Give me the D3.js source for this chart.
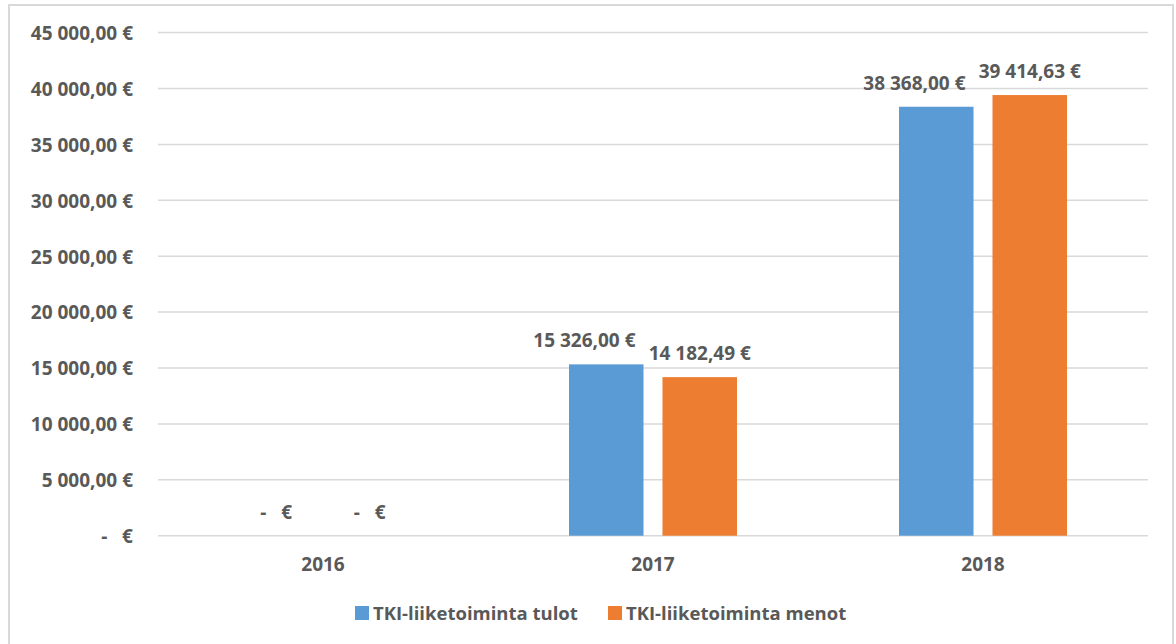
<!DOCTYPE html>
<html>
<head>
<meta charset="utf-8">
<script src="https://cdn.jsdelivr.net/npm/d3@7"></script>
<style>
  html, body { margin: 0; padding: 0; background: #fff; }
  svg { display: block; }
  text { font-family: "Open Sans", sans-serif; font-weight: 700; fill: #595959; white-space: pre; }
</style>
</head>
<body>
<svg id="chart" width="1176" height="644"></svg>
<script>
const categories = ["2016", "2017", "2018"];
const seriesNames = ["TKI-liiketoiminta tulot", "TKI-liiketoiminta menot"];
const tuloValues = [0, 15326.00, 38368.00];
const menoValues = [0, 14182.49, 39414.63];
const seriesColors = ["#5B9BD5", "#ED7D31"];
const yTickValues = [0, 5000, 10000, 15000, 20000, 25000, 30000, 35000, 40000, 45000];

const seriesValues = [tuloValues, menoValues];
const FS = 19;

function fmt(v) {
  if (v === 0) return "-   €";
  const parts = v.toFixed(2).split(".");
  const intPart = parts[0].replace(/\B(?=(\d{3})+(?!\d))/g, " ");
  return intPart + "," + parts[1] + " €";
}

const svg = d3.select("#chart");

// outer chart border
svg.append("rect")
  .attr("x", 9).attr("y", 5)
  .attr("width", 1164).attr("height", 650)
  .attr("fill", "none").attr("stroke", "#d9d9d9").attr("stroke-width", 2);

const plotLeft = 158, plotRight = 1148, plotTop = 32.6, plotBottom = 535.7;

const x0 = d3.scaleBand().domain(categories).range([plotLeft, plotRight]).padding(0);
const x1 = d3.scaleBand().domain(seriesNames).range([81, 249]).paddingInner(0.203).paddingOuter(0);
const y = d3.scaleLinear().domain([0, 45000]).range([plotBottom, plotTop]);

// gridlines
svg.append("g")
  .selectAll("line")
  .data(yTickValues)
  .join("line")
  .attr("x1", plotLeft).attr("x2", plotRight)
  .attr("y1", d => y(d)).attr("y2", d => y(d))
  .attr("stroke", "#d9d9d9").attr("stroke-width", 1.5);

// y axis labels
const yAxis = d3.axisLeft(y).tickValues(yTickValues).tickFormat(fmt).tickSize(0).tickPadding(0);
const yg = svg.append("g").attr("transform", `translate(133,0)`).call(yAxis);
yg.select(".domain").remove();
yg.selectAll("text")
  .attr("font-size", FS)
  .attr("font-family", "Open Sans")
  .attr("font-weight", 700)
  .attr("fill", "#595959")
  .attr("dy", "0.36em")
  .style("white-space", "pre");

// x axis labels
const xAxis = d3.axisBottom(x0).tickSize(0).tickPadding(0);
const xg = svg.append("g").attr("transform", `translate(0,${plotBottom})`).call(xAxis);
xg.select(".domain").remove();
xg.selectAll("text")
  .attr("font-size", FS)
  .attr("font-family", "Open Sans")
  .attr("font-weight", 700)
  .attr("fill", "#595959")
  .attr("y", 35).attr("dy", 0);

// bars
const groups = svg.append("g")
  .selectAll("g")
  .data(categories)
  .join("g")
  .attr("transform", d => `translate(${x0(d)},0)`);

const barData = (c, i) => seriesNames.map((s, k) => ({ series: s, k, value: seriesValues[k][i] }));

groups.selectAll("rect")
  .data((c, i) => barData(c, i))
  .join("rect")
  .attr("x", d => x1(d.series))
  .attr("width", x1.bandwidth())
  .attr("y", d => y(d.value))
  .attr("height", d => y(0) - y(d.value))
  .attr("fill", d => seriesColors[d.k]);

groups.each(function () {
  const g = d3.select(this);
  const labels = g.selectAll("text.lbl")
    .data(g.datum ? barData(null, categories.indexOf(g.datum())) : [])
    .join("text")
    .attr("class", "lbl")
    .attr("x", d => x1(d.series) + x1.bandwidth() / 2)
    .attr("y", d => y(d.value) - 17)
    .attr("text-anchor", "middle")
    .attr("font-size", FS)
    .text(d => fmt(d.value));
  // avoid overlap: nudge the first label left if it collides with the second
  const nodes = labels.nodes();
  if (nodes.length === 2) {
    const a = nodes[0].getBBox(), b = nodes[1].getBBox();
    const minGap = 13;
    const overlap = (a.x + a.width + minGap) - b.x;
    if (overlap > 0) {
      d3.select(nodes[0]).attr("x", +d3.select(nodes[0]).attr("x") - overlap);
    }
  }
});

// legend
const legend = svg.append("g");
const legendX = [355, 608];
seriesNames.forEach((s, k) => {
  legend.append("rect")
    .attr("x", legendX[k]).attr("y", 606)
    .attr("width", 14).attr("height", 14)
    .attr("fill", seriesColors[k]);
  legend.append("text")
    .attr("x", legendX[k] + 18).attr("y", 620)
    .attr("font-size", 18.5)
    .text(s);
});
</script>
</body>
</html>
